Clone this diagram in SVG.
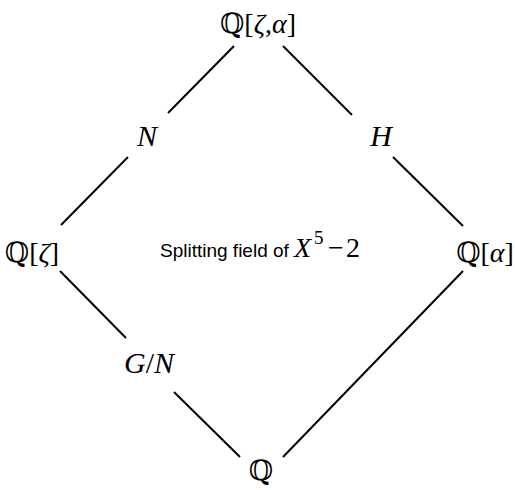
<svg xmlns="http://www.w3.org/2000/svg" width="515" height="490" viewBox="0 0 515 490">
<style>
.m{font-family:"Liberation Serif","DejaVu Serif",serif;font-size:28px;fill:#000;text-anchor:middle}
.l{font-size:30px}
.i{font-style:italic}
.s{font-family:"Liberation Sans",Arial,sans-serif;font-size:19px;fill:#000}
.r{font-family:"Liberation Serif",serif;fill:#000}
.e{stroke:#000;stroke-width:2;fill:none}
</style>
<rect width="515" height="490" fill="#fff"/>
<g id="connectors">
<line class="e" x1="234" y1="46" x2="168" y2="113"/>
<line class="e" x1="128" y1="157" x2="61" y2="225"/>
<line class="e" x1="283" y1="46" x2="352" y2="115"/>
<line class="e" x1="393" y1="157" x2="463" y2="226"/>
<line class="e" x1="60" y1="271" x2="126" y2="338"/>
<line class="e" x1="174" y1="392" x2="240" y2="457"/>
<line class="e" x1="463" y1="271" x2="283" y2="457"/>
</g>
<g id="top"><text class="m" x="258" y="33">ℚ[<tspan class="i">ζ</tspan>,<tspan class="i">α</tspan>]</text></g>
<g id="left"><text class="m" x="32" y="262">ℚ[<tspan class="i">ζ</tspan>]</text></g>
<g id="right"><text class="m" x="485" y="262">ℚ[<tspan class="i">α</tspan>]</text></g>
<g id="bottom"><text class="m" x="261" y="480">ℚ</text></g>
<g id="labelN"><text class="m l i" x="147" y="146">N</text></g>
<g id="labelH"><text class="m l i" x="381" y="146">H</text></g>
<g id="labelGN"><text class="m l" x="149" y="373"><tspan class="i">G</tspan>/<tspan class="i">N</tspan></text></g>
<g id="caption">
<text class="s" x="160" y="257">Splitting field of</text>
<text class="r" y="257" font-size="28"><tspan x="294" font-style="italic">X</tspan><tspan x="314" y="244" font-size="19">5</tspan><tspan x="328" y="257">−</tspan><tspan x="346">2</tspan></text>
</g>
</svg>
